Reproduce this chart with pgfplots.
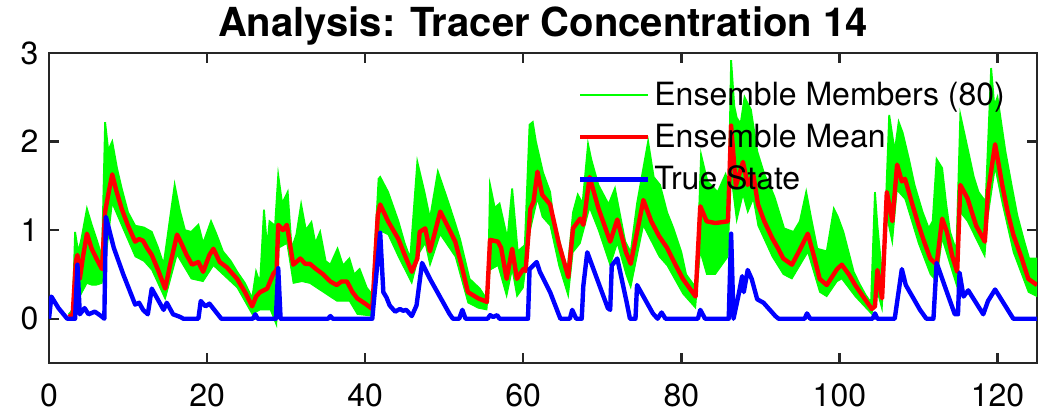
\documentclass[border=0pt]{standalone}
\usepackage{fontspec}
\setmainfont{TeX Gyre Heros}
\usepackage{pgfplots}
\pgfplotsset{compat=1.18}
\usepgfplotslibrary{fillbetween}
\definecolor{axgray}{RGB}{38,38,38}
\definecolor{mgreen}{RGB}{0,255,0}
\definecolor{mred}{RGB}{255,0,0}
\definecolor{mblue}{RGB}{0,0,255}
\begin{document}
\begin{tikzpicture}
\begin{axis}[
  scale only axis, width=494pt, height=155pt, at={(0,0)}, anchor=south west,
  xmin=0, xmax=125, ymin=-0.5, ymax=3,
  xtick={0,20,40,60,80,100,120}, ytick={0,1,2,3},
  tick align=inside, major tick length=5pt,
  axis line style={line width=1.2pt, color=axgray},
  every tick/.style={line width=1.2pt, color=axgray},
  /pgf/number format/assume math mode=true,
  ticklabel style={font=\fontsize{16}{19}\selectfont, text=black},
  xticklabel style={yshift=-6.7pt},
  yticklabel style={xshift=-1.7pt},
  title={Analysis: Tracer Concentration 14},
  title style={font=\fontsize{20}{24}\selectfont\bfseries, anchor=base, at={(0.5,1)}, yshift=2.5pt},
  legend style={draw=none, fill=none, at={(0.535,0.92)}, anchor=north west,
    font=\fontsize{16}{19}\selectfont, row sep=3.8pt, inner sep=0pt},
  legend cell align=left,
  legend image code/.code={\draw[#1] (0pt,0pt) -- (34pt,0pt);},
]
\addplot[color=mgreen, line width=0.9pt, name path=up] coordinates {
(2.5,0.05)(3.0,0.1)(3.3,0.98)(3.7,0.75)(4.1,0.9)(4.8,1.24)(5.4,1.06)(6.0,0.9)(6.7,0.7)
(7.1,2.22)(7.5,1.9)(8.0,2.0)(8.6,1.7)(9.2,1.47)(10.0,1.2)(10.9,1.05)(12.0,1.03)(13.0,0.98)
(13.8,0.8)(14.5,0.61)(15.9,1.51)(16.5,1.24)(17.2,1.0)(18.0,0.98)(18.9,1.06)(19.5,0.85)
(20.5,1.1)(21.2,0.95)(22.0,0.76)(23.0,0.65)(23.8,0.53)(24.8,0.4)(25.7,0.23)(26.2,0.53)
(26.7,0.4)(27.2,1.23)(27.6,0.8)(27.9,1.1)(28.6,1.05)(29.0,1.62)(29.5,1.3)(30.2,1.43)
(30.7,0.79)(31.3,0.95)(31.9,1.29)(32.5,1.0)(33.2,1.09)(33.7,0.85)(34.3,0.98)(35.0,0.65)
(35.6,0.61)(36.5,0.79)(37.2,0.6)(38.0,0.68)(38.6,0.5)(39.3,0.56)(40.2,0.35)(40.9,0.27)
(41.7,1.58)(41.9,1.6)(42.9,1.43)(44.2,1.1)(45.0,0.85)(45.7,0.68)(46.6,1.77)(47.5,1.43)
(48.2,1.13)(49.2,1.66)(50.5,1.32)(51.3,1.1)(52.0,0.9)(53.2,0.45)(54.5,0.34)(55.5,0.2)
(55.8,1.51)(56.4,1.25)(57.0,1.3)(57.5,1.1)(58.0,0.9)(58.6,1.47)(59.3,0.76)(60.2,0.83)
(60.8,2.19)(61.2,2.22)(61.6,2.0)(62.5,1.65)(63.4,1.43)(63.8,1.15)(64.8,0.8)(65.6,0.55)
(66.3,1.2)(66.9,1.4)(67.5,1.3)(68.2,1.97)(68.6,1.8)(69.5,1.51)(70.8,1.29)(71.6,1.47)
(72.9,0.87)(73.6,0.75)(74.4,1.3)(75.8,2.0)(76.5,1.6)(77.3,1.51)(78.2,1.2)(79.0,1.02)
(80.0,0.75)(80.6,0.5)(81.9,0.34)(82.5,1.85)(83.3,1.55)(84.6,1.43)(85.6,1.63)(86.0,1.5)
(86.3,2.92)(86.7,2.4)(87.0,2.27)(87.5,2.2)(88.0,2.5)(88.8,2.36)(89.6,1.89)(90.5,1.63)
(91.2,1.5)(91.8,1.37)(93.0,1.02)(94.2,0.98)(95.0,1.1)(95.8,1.43)(96.5,1.1)(97.2,0.79)
(98.4,0.76)(99.3,1.24)(99.8,1.15)(100.5,0.98)(101.8,0.53)(102.5,0.4)(103.3,0.27)(104.0,0.18)
(104.5,1.43)(104.8,1.06)(105.5,0.4)(106.3,2.3)(107.0,1.89)(107.5,2.22)(108.0,2.1)(108.8,1.8)
(109.5,1.51)(110.5,1.21)(111.3,1.02)(111.8,1.1)(112.3,1.8)(113.0,1.7)(113.5,1.3)(114.0,0.98)
(114.8,0.76)(115.3,2.3)(116.3,1.89)(117.0,1.6)(117.6,1.43)(118.5,1.32)(119.2,2.83)(119.6,2.4)
(120.0,2.5)(121.0,1.89)(121.8,1.5)(122.5,1.17)(123.3,0.9)(124.0,0.68)(125.0,0.68)
};
\addlegendentry{Ensemble Members (80)}
\addplot[color=mgreen, line width=0.5pt, name path=lo, forget plot] coordinates {
(2.5,0.0)(3.0,0.0)(3.4,0.3)(3.9,0.25)(4.8,0.4)(5.4,0.38)(6.0,0.38)(6.7,0.4)(7.1,0.6)
(8.0,1.3)(9.2,1.05)(10.9,0.7)(12.0,0.65)(13.0,0.55)(14.7,0.22)(16.2,0.72)(17.0,0.6)
(18.0,0.45)(19.5,0.42)(20.8,0.6)(22.0,0.5)(23.8,0.35)(25.7,0.05)(26.7,0.1)(28.0,0.1)
(28.8,-0.08)(29.1,0.8)(30.1,0.85)(30.9,0.4)(32.0,0.42)(33.0,0.4)(34.7,0.3)(36.4,0.2)
(38.0,0.2)(39.0,0.05)(40.9,0.03)(41.7,1.0)(42.9,0.95)(44.2,0.7)(45.9,0.4)(46.9,0.75)
(47.6,0.85)(48.2,0.6)(49.5,0.95)(51.4,0.7)(53.0,0.18)(54.3,0.12)(55.4,0.1)(55.8,0.55)
(56.8,0.6)(57.9,0.25)(58.6,0.55)(59.2,0.25)(60.0,0.35)(60.9,1.0)(61.8,1.35)(62.4,1.15)
(63.4,1.05)(64.5,0.6)(65.7,0.25)(66.3,0.75)(67.2,0.85)(68.4,1.25)(69.5,1.0)(71.0,0.6)
(71.9,0.85)(73.0,0.5)(73.6,0.35)(75.2,1.05)(77.2,0.7)(78.2,0.6)(80.2,0.28)(81.8,0.12)
(82.4,0.75)(83.2,0.5)(84.3,0.5)(85.9,0.7)(86.3,1.6)(87.0,1.1)(87.8,1.4)(88.4,1.2)
(89.1,1.35)(89.7,1.05)(91.5,0.7)(92.9,0.5)(94.0,0.45)(96.0,0.75)(97.5,0.3)(98.4,0.25)
(99.7,0.42)(100.3,0.45)(102.0,0.25)(104.1,0.05)(104.8,0.3)(105.4,0.1)(106.0,1.15)
(106.7,0.85)(107.3,1.45)(108.3,1.35)(110.0,0.85)(111.5,0.5)(112.3,0.42)(113.0,0.9)
(114.9,0.35)(115.3,1.2)(116.2,1.1)(118.4,0.7)(118.8,1.15)(119.7,1.7)(120.6,1.3)
(122.0,0.75)(123.9,0.3)(125.0,0.25)
};
\addplot[mgreen, forget plot] fill between[of=up and lo];
\addplot[color=mred, line width=2.2pt, line join=round] coordinates {
(2.5,0.02)(3.0,0.05)(3.4,0.65)(3.6,0.72)(3.9,0.45)(4.3,0.7)(4.8,0.96)(5.4,0.79)(6.0,0.68)
(6.7,0.56)(7.1,1.21)(7.6,1.45)(8.0,1.63)(8.5,1.45)(9.2,1.24)(10.0,1.05)(10.9,0.87)(11.4,0.9)
(11.9,0.88)(12.4,0.8)(13.0,0.72)(13.8,0.55)(14.7,0.34)(15.3,0.6)(16.2,0.95)(16.8,0.84)
(17.4,0.72)(18.1,0.61)(18.9,0.64)(19.5,0.53)(20.3,0.72)(20.8,0.79)(21.6,0.64)(22.5,0.58)
(23.8,0.45)(24.8,0.3)(25.7,0.14)(26.2,0.25)(26.7,0.3)(27.6,0.34)(28.4,0.51)(28.8,0.55)
(29.0,1.06)(29.6,1.0)(30.1,1.06)(30.9,0.61)(31.8,0.68)(32.4,0.62)(33.0,0.62)(33.8,0.56)
(34.7,0.5)(35.6,0.42)(36.4,0.38)(37.0,0.42)(37.7,0.42)(38.4,0.3)(39.0,0.23)(40.0,0.17)
(40.9,0.11)(41.6,1.17)(41.9,1.29)(42.9,1.1)(44.2,0.9)(45.0,0.72)(45.9,0.53)(46.6,0.68)
(46.9,0.98)(47.6,1.02)(48.2,0.76)(49.5,1.21)(50.4,1.05)(51.4,0.87)(52.2,0.6)(53.0,0.3)
(54.3,0.23)(55.4,0.19)(55.8,0.89)(56.8,0.87)(57.2,0.8)(57.9,0.45)(58.6,0.79)(59.2,0.45)
(60.0,0.56)(60.3,0.54)(60.9,1.24)(61.3,1.32)(61.8,1.66)(62.4,1.4)(63.4,1.29)(64.5,0.85)
(65.7,0.47)(66.3,1.02)(67.2,1.13)(67.6,1.06)(68.4,1.6)(69.5,1.25)(71.0,0.87)(71.9,1.12)
(73.0,0.75)(73.6,0.62)(75.2,1.34)(76.2,1.1)(77.2,0.93)(78.2,0.8)(79.2,0.62)(80.2,0.45)
(81.0,0.35)(81.8,0.25)(82.4,1.27)(83.2,1.1)(84.3,1.08)(85.9,1.1)(86.3,2.18)(86.9,1.5)
(87.8,1.77)(88.4,1.51)(89.1,1.63)(89.7,1.29)(90.5,1.1)(91.5,0.91)(92.2,0.8)(92.9,0.68)
(94.0,0.61)(95.0,0.78)(96.0,0.96)(96.8,0.7)(97.5,0.45)(98.4,0.38)(99.7,0.56)(100.3,0.61)
(101.2,0.5)(102.0,0.38)(103.0,0.25)(104.1,0.11)(104.5,0.14)(104.8,0.55)(105.4,0.23)
(106.0,1.43)(106.7,1.1)(107.3,1.74)(107.9,1.55)(108.3,1.58)(109.2,1.3)(110.0,1.06)
(110.8,0.85)(111.5,0.68)(112.3,0.61)(113.0,1.13)(113.6,0.98)(114.3,0.7)(114.9,0.53)
(115.3,1.51)(116.2,1.36)(117.3,1.05)(118.4,0.87)(118.8,1.43)(119.7,1.97)(120.6,1.51)
(121.3,1.2)(122.0,0.95)(123.0,0.7)(123.9,0.45)(125.0,0.38)
};
\addlegendentry{Ensemble Mean}
\addplot[color=mblue, line width=2.2pt, line join=round] coordinates {
(0,0)(0.3,0.25)(1.2,0.12)(2.3,0)(3.3,0)(3.6,0.61)(3.9,0.05)(4.5,0.12)(5.0,0.05)(5.8,0.08)
(6.6,0.03)(7.0,0)(7.2,1.15)(8.2,0.8)(9.4,0.5)(10.9,0.16)(11.4,0.18)(11.9,0.1)(12.5,0.05)
(13.0,0.34)(14.5,0.1)(14.9,0.18)(15.7,0.05)(16.6,0.02)(17.0,0)(18.9,0)(19.2,0.2)(19.8,0.14)
(20.3,0.17)(21.8,0)(25.8,0)(26.1,0.05)(26.4,0)(28.7,0)(29.0,0.57)(29.3,0)(35.3,0)(35.6,0.03)
(35.9,0)(40.9,0)(41.9,0.97)(42.3,0.3)(42.7,0.24)(43.1,0.15)(43.8,0.08)(44.4,0.11)(44.8,0.09)
(45.2,0.1)(45.9,0.03)(46.5,0.15)(47.2,0.63)(48.2,0.45)(50.7,0.05)(51.1,0)(51.9,0)(52.3,0.1)
(52.7,0)(55.5,0)(55.8,0.04)(56.2,0.02)(56.7,0.04)(57.0,0)(60.6,0)(60.8,0.56)(61.7,0.64)
(62.1,0.53)(63.4,0.3)(64.7,0)(65.9,0)(66.2,0.1)(66.7,0)(67.4,0)(67.6,0.37)(68.1,0.75)
(70.7,0.12)(71.0,0.1)(71.2,0.6)(71.9,0.68)(73.1,0.18)(73.5,0)(74.2,0)(74.4,0.38)(76.4,0.06)
(77.0,0)(77.5,0.07)(78.0,0)(82.1,0)(82.4,0.1)(83.0,0)(86.0,0)(86.3,0.96)(86.6,0)(87.2,0.25)
(87.7,0.48)(87.9,0.3)(88.4,0.55)(88.9,0.45)(89.6,0.22)(90.4,0.18)(91.9,0.03)(92.3,0)
(95.6,0)(95.9,0.06)(96.3,0)(104.2,0)(104.5,0.06)(104.8,0)(107.0,0)(107.9,0.56)(108.4,0.38)
(110.2,0.1)(111.0,0)(111.9,0)(112.3,0.63)(113.6,0.3)(114.6,0.05)(115.0,0.05)(115.2,0.52)
(115.7,0.25)(116.3,0.32)(118.2,0.05)(118.8,0.2)(119.7,0.33)(122.0,0)(125,0)
};
\addlegendentry{True State}
\end{axis}
\pgfresetboundingbox
\path (-24.5pt,-25.5pt) rectangle (495.5pt,181.5pt);
\end{tikzpicture}
\end{document}
